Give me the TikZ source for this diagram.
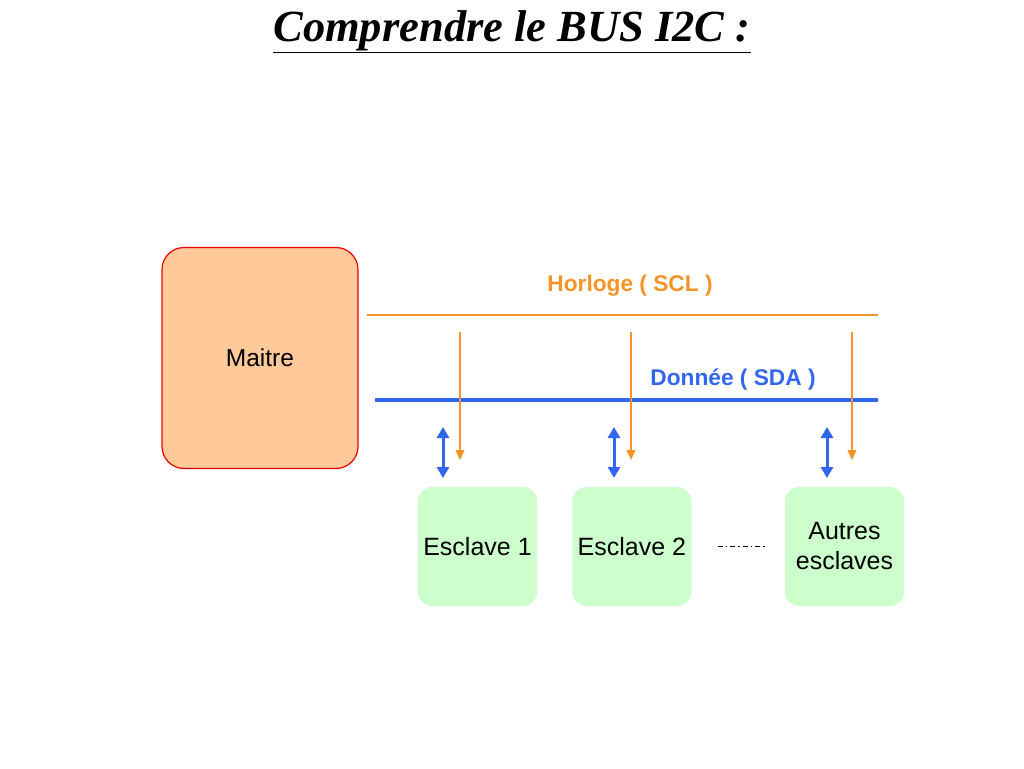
\documentclass[tikz,border=0pt]{standalone}
\usepackage{fontspec}
\setmainfont{Liberation Sans}
\newfontfamily\titlefont{Liberation Serif}
\usetikzlibrary{positioning,arrows.meta}
\definecolor{maitrefill}{RGB}{255,201,153}
\definecolor{maitreborder}{RGB}{235,0,0}
\definecolor{esclavefill}{RGB}{204,255,204}
\definecolor{sclorange}{RGB}{247,148,40}
\definecolor{sdablue}{RGB}{51,102,238}
\tikzset{
  esclave/.style={fill=esclavefill, rounded corners=14pt, minimum width=119pt,
    minimum height=119pt, align=center, font=\fontsize{25}{30}\selectfont},
  horloge/.style={-{Triangle[length=10pt,width=9pt]}, draw=sclorange, line width=1.2pt},
  donnee/.style={{Triangle[length=11pt,width=12pt]}-{Triangle[length=11pt,width=12pt]},
    draw=sdablue, line width=3pt},
}
\begin{document}
\begin{tikzpicture}[x=1pt,y=-1pt]
  \useasboundingbox (0,0) rectangle (1024,768);
  \node[font=\titlefont\fontsize{44.5}{48}\selectfont\bfseries\itshape] (titre) at (512,32)
    {\underline{Comprendre le BUS I2C :}};
  % maitre et esclaves
  \node[draw=maitreborder, line width=1.2pt, fill=maitrefill, rounded corners=22pt, minimum width=196pt,
    minimum height=221pt, font=\fontsize{24.5}{30}\selectfont] (maitre) at (260,358) {Maitre};
  \node[esclave] (e1) at (477.5,546.5) {Esclave 1};
  \node[esclave, right=35pt of e1] (e2) {Esclave 2};
  \node[esclave] (autres) at (844.5,546.5) {Autres\\esclaves};
  \draw[line width=1pt, dash pattern=on 5pt off 3pt on 1.5pt off 3pt]
    ([xshift=26pt]e2.east) -- ([xshift=-18pt]autres.west);
  % bus
  \coordinate (sclA) at (367,315);
  \coordinate (sclB) at (878,315);
  \coordinate (sdaA) at (375,400);
  \coordinate (sdaB) at (878,400);
  \draw[draw=sclorange, line width=1.3pt] (sclA) -- (sclB);
  \draw[draw=sdablue, line width=3.5pt] (sdaA) -- (sdaB);
  \node[text=sclorange, font=\fontsize{22.7}{26}\selectfont\bfseries] (scl) at (630,286) {Horloge ( SCL )};
  \node[text=sdablue, font=\fontsize{22.7}{26}\selectfont\bfseries] (sda) at (733,380) {Donnée ( SDA )};
  \foreach \x in {460,631,852}
    \draw[horloge] (\x,332) -- (\x,460);
  \foreach \x in {443,614,827}
    \draw[donnee] (\x,427) -- (\x,478);
\end{tikzpicture}
\end{document}
